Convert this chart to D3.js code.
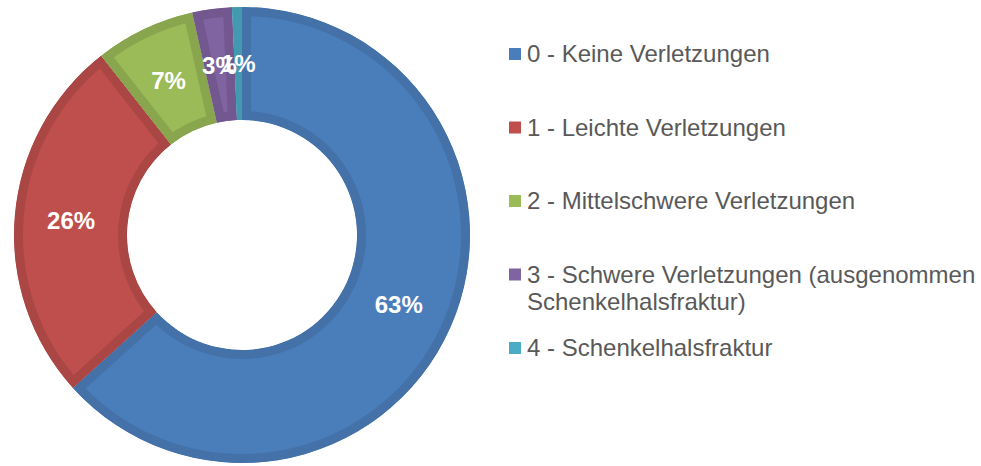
<!DOCTYPE html>
<html><head><meta charset="utf-8">
<script src="https://cdn.jsdelivr.net/npm/d3@7"></script>
<style>html,body{margin:0;padding:0;background:#fff;}svg{display:block;}</style>
</head><body>
<svg id="chart" width="981" height="466"></svg>
<script>
const categories = ["0 - Keine Verletzungen","1 - Leichte Verletzungen","2 - Mittelschwere Verletzungen","3 - Schwere Verletzungen (ausgenommen Schenkelhalsfraktur)","4 - Schenkelhalsfraktur"];
const legendLines = [["0 - Keine Verletzungen"],["1 - Leichte Verletzungen"],["2 - Mittelschwere Verletzungen"],["3 - Schwere Verletzungen (ausgenommen","Schenkelhalsfraktur)"],["4 - Schenkelhalsfraktur"]];
const values = [63.3, 26.1, 7.1, 2.8, 0.7];
const labels = ["63%","26%","7%","3%","1%"];
const fills = ["#4A7EBB","#BE4F4C","#9BBB59","#8064A2","#4BACC6"];
const borders = ["#4371A8","#AA4744","#89A64F","#72588F","#429AB1"];

const svg = d3.select("#chart");
const cx = 242, cy = 235, R = 228, r = 115;
const pie = d3.pie().sort(null).value(d => d)(values);
const arc = d3.arc().innerRadius(r).outerRadius(R);
const labelArc = d3.arc().innerRadius((R + r) / 2).outerRadius((R + r) / 2);

const defs = svg.append("defs");
const g = svg.append("g").attr("transform", `translate(${cx},${cy})`);
pie.forEach((p, i) => {
  defs.append("clipPath").attr("id", "clip" + i).append("path").attr("d", arc(p));
  g.append("path").attr("d", arc(p)).attr("fill", fills[i])
    .attr("stroke", borders[i]).attr("stroke-width", 18)
    .attr("clip-path", `url(#clip${i})`);
});
pie.forEach((p, i) => {
  const c = labelArc.centroid(p);
  g.append("text").attr("x", c[0]).attr("y", c[1]).attr("dy", "0.36em")
    .attr("text-anchor", "middle").attr("font-family", "'Liberation Sans', Arial, sans-serif")
    .attr("font-weight", "bold").attr("font-size", 24).attr("fill", "#fff").text(labels[i]);
});

const lg = svg.append("g");
const y0 = 62, step = 73.5;
legendLines.forEach((lines, i) => {
  const by = y0 + i * step;
  lg.append("rect").attr("x", 509).attr("y", by - 14).attr("width", 12).attr("height", 12).attr("fill", fills[i]);
  const t = lg.append("text").attr("x", 527).attr("y", by)
    .attr("font-family", "'Liberation Sans', Arial, sans-serif").attr("font-size", 24).attr("fill", "#595959");
  lines.forEach((ln, j) => t.append("tspan").attr("x", 527).attr("dy", j === 0 ? 0 : 27.5).text(ln));
});
</script>
</body></html>
